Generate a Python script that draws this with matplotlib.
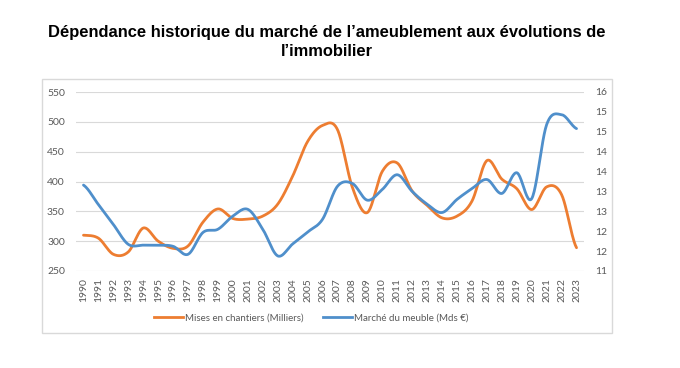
import numpy as np
import matplotlib
matplotlib.use('Agg')
import matplotlib.pyplot as plt
from matplotlib.patches import Rectangle
from matplotlib.lines import Line2D

# Données
annees = [str(a) for a in range(1990, 2024)]
mises_chantiers = [310, 305, 278, 282, 322, 300, 288, 292, 332, 354,
                   338, 337, 342, 362, 409, 467, 494, 487, 390, 348,
                   417, 431, 384, 360, 339, 342, 367, 435, 404, 388,
                   353, 391, 378, 289]
marche_meuble = [13.16, 12.67, 12.17, 11.67, 11.65, 11.65, 11.62, 11.42, 11.97, 12.05,
                 12.38, 12.55, 12.05, 11.38, 11.68, 11.98, 12.30, 13.13, 13.20, 12.78,
                 13.05, 13.42, 13.00, 12.68, 12.47, 12.80, 13.07, 13.30, 12.95, 13.47,
                 12.82, 14.68, 14.93, 14.58]
ticks_gauche = [250, 300, 350, 400, 450, 500, 550]
ticks_droite = [11, 11.5, 12, 12.5, 13, 13.5, 14, 14.5, 15, 15.5]

ORANGE = '#ED7D31'
BLEU = '#4F8FCB'
GRIS = '#595959'


def lissage(y, n=24):
    # Courbe lissée type Excel (Catmull-Rom)
    y = np.asarray(y, dtype=float)
    p = np.concatenate([[y[0]], y, [y[-1]]])
    xs, ys = [], []
    for i in range(len(y) - 1):
        p0, p1, p2, p3 = p[i], p[i + 1], p[i + 2], p[i + 3]
        t = np.linspace(0, 1, n, endpoint=False)
        v = 0.5 * ((2 * p1) + (-p0 + p2) * t + (2 * p0 - 5 * p1 + 4 * p2 - p3) * t ** 2
                   + (-p0 + 3 * p1 - 3 * p2 + p3) * t ** 3)
        xs.append(i + t)
        ys.append(v)
    xs.append([len(y) - 1])
    ys.append([y[-1]])
    return np.concatenate(xs), np.concatenate(ys)


fig = plt.figure(figsize=(6.8, 3.68), dpi=100)
fig.patch.set_facecolor('white')

# Cadre du graphique
fig.patches.append(Rectangle((42 / 680, 1 - 333 / 368), 570 / 680, 254.5 / 368,
                             transform=fig.transFigure, fill=False,
                             edgecolor='#D9D9D9', linewidth=1))

# Titre
fig.text(327 / 680, 1 - 33 / 368, "Dépendance historique du marché de l’ameublement aux évolutions de",
         ha='center', va='center', fontsize=11.85, fontweight='bold', family='Liberation Sans')
fig.text(327 / 680, 1 - 51 / 368, "l’immobilier",
         ha='center', va='center', fontsize=11.85, fontweight='bold', family='Liberation Sans')

ax = fig.add_axes([76 / 680, 1 - 271 / 368, 508 / 680, 179 / 368])
ax2 = ax.twinx()

x = np.arange(len(annees))
xo, yo = lissage(mises_chantiers)
xb, yb = lissage(marche_meuble)
ax.plot(xo, yo, color=ORANGE, linewidth=2, solid_capstyle='round')
ax2.plot(xb, yb, color=BLEU, linewidth=2, solid_capstyle='round')

ax.set_xlim(-0.5, len(annees) - 0.5)
ax.set_ylim(250, 550)
ax2.set_ylim(11, 15.5)
ax.set_yticks(ticks_gauche)
ax2.set_yticks(ticks_droite)
ax2.set_yticklabels([str(int(np.floor(v + 0.5))) for v in ticks_droite])
ax.set_xticks(x)
ax.set_xticklabels(annees, rotation=90)

ax.grid(axis='y', color='#D9D9D9', linewidth=0.8)
ax.set_axisbelow(True)
for a in (ax, ax2):
    for s in a.spines.values():
        s.set_visible(False)
    a.tick_params(length=0, colors=GRIS, labelsize=7.5)
ax.tick_params(axis='y', pad=8)
ax.tick_params(axis='x', pad=5)
ax2.tick_params(axis='y', pad=8)
for lab in ax.get_xticklabels() + ax.get_yticklabels() + ax2.get_yticklabels():
    lab.set_family('Lato')

# Légende
poignees = [Line2D([0], [0], color=ORANGE, linewidth=2),
            Line2D([0], [0], color=BLEU, linewidth=2)]
fig.legend(poignees, ['Mises en chantiers (Milliers)', 'Marché du meuble (Mds €)'],
           loc='center', bbox_to_anchor=(311 / 680, 1 - 318 / 368), ncol=2, frameon=False,
           prop={'family': 'Lato', 'size': 7}, labelcolor=GRIS,
           handlelength=3.0, handletextpad=0.2, columnspacing=2.0)

fig.savefig('out.png', dpi=100, facecolor='white')
